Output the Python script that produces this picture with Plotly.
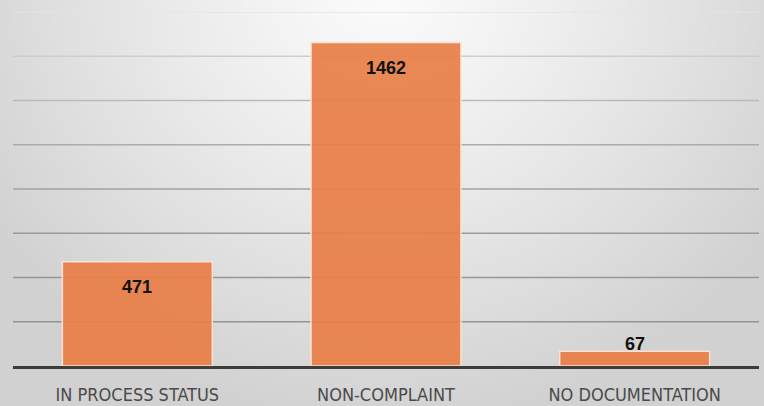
import base64
import zlib
import struct
import numpy as np
import plotly.graph_objects as go

categories = ["IN PROCESS STATUS", "NON-COMPLAINT", "NO DOCUMENTATION"]
values = [471, 1462, 67]
y_max = 1600
grid_step = 200

W, H = 764, 406
ML, MR, MT, MB = 13, 5, 12, 40
PW, PH = W - ML - MR, H - MT - MB


def make_png(arr):
    h, w, _ = arr.shape
    raw = b"".join(b"\x00" + arr[i].tobytes() for i in range(h))

    def chunk(tag, data):
        c = struct.pack(">I", len(data)) + tag + data
        return c + struct.pack(">I", zlib.crc32(tag + data) & 0xFFFFFFFF)

    png = b"\x89PNG\r\n\x1a\n"
    png += chunk(b"IHDR", struct.pack(">IIBBBBB", w, h, 8, 2, 0, 0, 0))
    png += chunk(b"IDAT", zlib.compress(raw, 9))
    png += chunk(b"IEND", b"")
    return "data:image/png;base64," + base64.b64encode(png).decode()


# radial background gradient (white at top centre, grey at edges)
yy, xx = np.mgrid[0:H, 0:W].astype(float)
t = np.sqrt(((xx - 385) / 470.0) ** 2 + ((yy + 10) / 440.0) ** 2)
t = np.clip(t, 0, 1)
g = 251 - 42 * t ** 1.2
bg = np.stack([g, g, g], axis=-1).astype(np.uint8)
bg_src = make_png(bg)

fig = go.Figure()

fig.add_trace(go.Bar(
    x=categories,
    y=values,
    marker=dict(color="#E97F49", opacity=0.93,
                line=dict(color="#FBE3D2", width=1.5)),
    hoverinfo="x+y",
))

# gridlines, fading towards the top
grid_vals = list(range(grid_step, y_max + 1, grid_step))
shapes = []
for gv in grid_vals:
    f = gv / y_max
    c = int(148 + 80 * f ** 2.5)
    shapes.append(dict(type="line", xref="paper", yref="y", x0=0, x1=1,
                       y0=gv, y1=gv, layer="below",
                       line=dict(color=f"rgb({c},{c},{c})", width=1.6)))

annotations = []
for cat, v in zip(categories, values):
    inside = v / y_max * PH > 40
    annotations.append(dict(
        x=cat, y=v, xref="x", yref="y", text=f"<b>{v}</b>",
        showarrow=False, yanchor="middle",
        yshift=-25 if inside else 7,
        font=dict(family="Liberation Sans, Arial, sans-serif", size=18,
                  color="#111111"),
    ))

fig.update_layout(
    width=W, height=H,
    margin=dict(l=ML, r=MR, t=MT, b=MB, autoexpand=False),
    paper_bgcolor="#dcdcdc",
    plot_bgcolor="rgba(0,0,0,0)",
    showlegend=False,
    bargap=0.397,
    shapes=shapes,
    annotations=annotations,
    images=[dict(source=bg_src, xref="paper", yref="paper",
                 x=-ML / PW, y=1 + MT / PH, sizex=W / PW, sizey=H / PH,
                 xanchor="left", yanchor="top", sizing="stretch",
                 layer="below")],
    xaxis=dict(
        showgrid=False, showline=True, linecolor="#3c3c3c", linewidth=2.6,
        ticks="", zeroline=False, ticklabelstandoff=11, automargin=False,
        tickfont=dict(family="Liberation Sans Narrow, DejaVu Sans Condensed, Arial Narrow, sans-serif",
                      size=18, color="#4a4a4a"),
    ),
    yaxis=dict(
        range=[0, y_max], showgrid=False, zeroline=False, automargin=False,
        showticklabels=False, ticks="", fixedrange=True,
    ),
)

fig.write_html("out.html", config={"displayModeBar": False})

with open("out.html", "r", encoding="utf-8") as fh:
    html = fh.read()
html = html.replace("<head>", "<head><style>html,body{margin:0;padding:0;overflow:hidden;}</style>", 1)
with open("out.html", "w", encoding="utf-8") as fh:
    fh.write(html)
